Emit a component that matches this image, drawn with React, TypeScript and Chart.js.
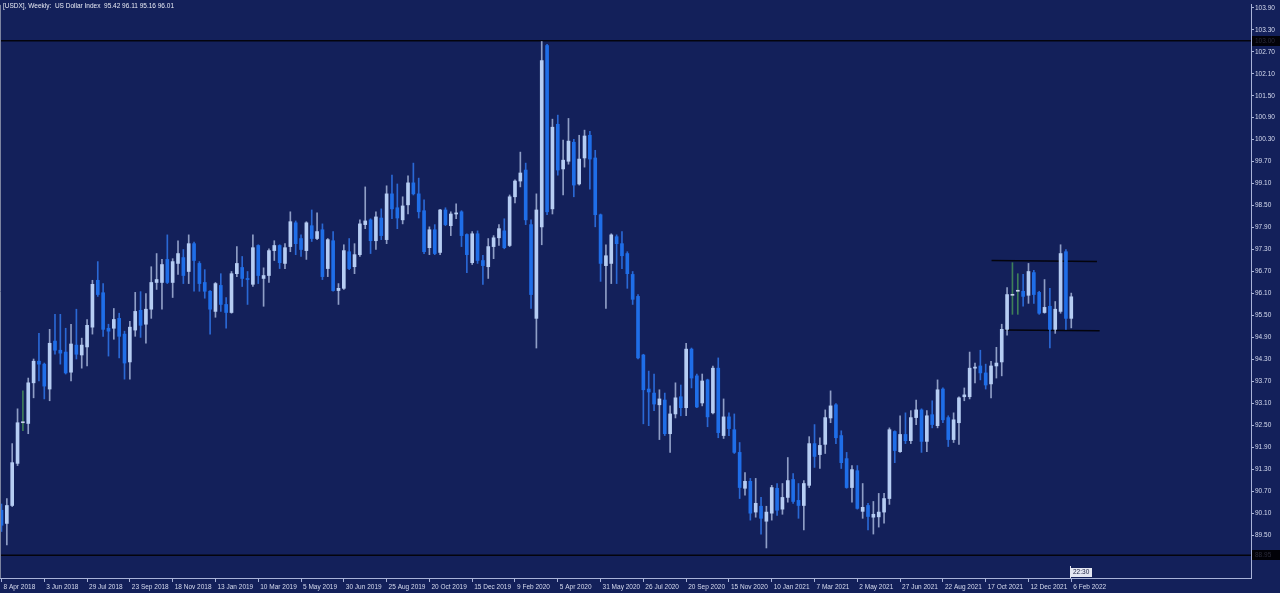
import React, { useEffect, useRef } from 'react';
import { Chart, registerables } from 'chart.js';

Chart.register(...registerables);

// Weekly OHLC, 8 Apr 2018 .. 6 Feb 2022 (201 bars)
const opens = [
  90.18, 89.82, 90.31, 91.46, 92.57, 92.55, 93.66, 94.25, 94.17, 93.49,
  94.80, 94.55, 94.50, 93.95, 94.69, 94.42, 94.64, 95.18, 96.46, 96.12,
  95.15, 95.15, 95.42, 94.99, 94.23, 95.10, 95.64, 95.26, 95.67, 96.40,
  96.40, 97.03, 96.40, 96.92, 97.08, 96.70, 97.46, 96.92, 96.40, 96.16,
  95.61, 96.32, 95.80, 95.58, 96.64, 96.81, 96.51, 96.35, 97.41, 96.51,
  96.59, 97.27, 97.41, 96.92, 97.38, 98.03, 97.60, 97.27, 97.95, 97.60,
  97.84, 96.78, 97.54, 96.18, 96.24, 97.24, 96.83, 97.16, 97.98, 98.11,
  97.54, 98.16, 97.57, 98.82, 98.44, 98.11, 98.52, 99.12, 98.82, 98.36,
  97.35, 97.84, 97.22, 98.38, 97.95, 98.27, 98.33, 97.71, 96.94, 97.73,
  97.00, 96.83, 97.38, 97.62, 97.81, 97.41, 98.74, 99.17, 99.47, 97.98,
  95.42, 97.92, 102.87, 98.41, 100.72, 99.50, 99.71, 100.23, 99.09, 99.80,
  100.42, 99.80, 98.25, 96.86, 96.92, 97.65, 97.46, 97.19, 96.62, 96.02,
  94.42, 93.49, 93.38, 93.06, 93.19, 92.27, 92.81, 93.28, 92.98, 94.58,
  93.85, 93.11, 93.74, 92.84, 94.06, 92.22, 92.73, 92.38, 91.76, 90.78,
  90.97, 90.13, 90.29, 89.88, 90.10, 90.78, 90.21, 90.53, 91.02, 90.45,
  90.31, 90.86, 92.00, 91.70, 91.98, 92.70, 93.06, 92.22, 91.59, 90.80,
  91.26, 90.15, 90.31, 89.99, 90.00, 90.13, 90.50, 92.33, 91.78, 92.25,
  92.08, 92.71, 92.92, 92.06, 92.79, 92.49, 93.49, 92.71, 92.11, 92.57,
  93.28, 93.28, 94.06, 94.12, 93.93, 93.63, 94.12, 94.23, 95.12, 96.05,
  96.16, 96.16, 96.05, 96.67, 96.13, 95.58, 95.75, 95.12, 95.61, 97.24,
  95.42,
];
const highs = [
  90.35, 90.50, 92.00, 92.95, 93.44, 93.79, 94.31, 95.01, 94.20, 95.12,
  95.53, 95.53, 95.15, 95.26, 95.67, 94.88, 95.39, 96.46, 96.97, 96.37,
  95.26, 95.69, 95.56, 95.07, 95.34, 96.13, 96.15, 96.10, 96.83, 97.19,
  97.03, 97.70, 97.05, 97.54, 97.30, 97.70, 97.50, 96.97, 96.75, 96.18,
  96.40, 96.64, 95.99, 96.70, 97.38, 97.11, 96.70, 97.70, 97.43, 96.80,
  97.32, 97.54, 97.43, 97.46, 98.33, 98.08, 97.70, 98.06, 98.38, 98.30,
  98.00, 97.60, 97.79, 96.37, 97.43, 97.60, 97.46, 98.11, 99.01, 98.14,
  98.33, 98.41, 99.04, 99.33, 99.09, 98.74, 99.31, 99.66, 99.25, 98.66,
  97.92, 97.98, 98.40, 98.44, 98.33, 98.55, 98.36, 97.73, 97.79, 97.81,
  97.14, 97.60, 97.68, 97.98, 98.14, 98.79, 99.20, 99.96, 99.66, 98.11,
  98.82, 102.98, 102.90, 100.86, 100.97, 100.29, 100.88, 100.31, 100.42, 100.56,
  100.53, 100.01, 98.27, 97.43, 97.73, 97.70, 97.79, 97.24, 96.70, 96.07,
  94.44, 93.98, 93.90, 93.47, 93.38, 93.03, 93.66, 93.60, 94.74, 94.61,
  93.90, 93.90, 93.76, 94.12, 94.34, 93.22, 92.84, 92.81, 92.03, 91.21,
  91.05, 91.05, 90.53, 90.29, 90.86, 90.91, 90.91, 91.62, 91.18, 90.91,
  90.99, 92.19, 92.52, 92.16, 92.92, 93.44, 93.09, 92.35, 91.76, 91.40,
  91.40, 90.91, 90.37, 90.42, 90.64, 90.64, 92.43, 92.35, 92.76, 92.84,
  92.90, 93.19, 92.95, 92.90, 93.17, 93.74, 93.52, 92.76, 92.84, 93.28,
  93.52, 94.50, 94.20, 94.55, 94.17, 94.25, 94.63, 95.26, 96.26, 96.94,
  96.64, 96.62, 96.92, 96.73, 96.16, 96.48, 96.24, 95.88, 97.43, 97.30,
  96.11,
];
const lows = [
  89.60, 89.23, 90.28, 91.40, 92.35, 92.27, 93.25, 93.71, 93.22, 93.17,
  94.44, 94.17, 93.90, 93.71, 94.31, 94.06, 94.12, 94.99, 96.02, 94.93,
  94.39, 94.85, 94.34, 93.76, 93.76, 94.93, 94.90, 94.74, 95.42, 96.21,
  95.67, 96.37, 95.99, 96.62, 96.37, 96.37, 96.16, 96.16, 95.97, 94.99,
  95.45, 95.61, 95.15, 95.56, 96.56, 96.29, 95.80, 96.29, 96.37, 95.75,
  96.40, 97.00, 96.78, 96.78, 97.24, 97.16, 97.11, 97.03, 97.52, 97.57,
  96.48, 96.56, 96.16, 95.80, 96.21, 96.75, 96.64, 97.11, 97.87, 97.19,
  97.30, 97.57, 97.46, 98.14, 97.87, 98.00, 98.27, 98.79, 98.16, 97.19,
  97.16, 97.16, 97.16, 97.95, 97.68, 98.14, 97.38, 96.67, 96.89, 96.92,
  96.35, 96.51, 97.05, 97.41, 97.32, 97.38, 98.57, 99.01, 97.98, 95.69,
  94.61, 97.43, 98.25, 98.27, 99.33, 98.79, 99.63, 98.74, 99.06, 99.55,
  98.95, 97.92, 96.43, 95.69, 96.37, 96.37, 96.78, 96.24, 95.80, 94.31,
  92.54, 92.49, 92.90, 92.11, 92.22, 91.76, 92.70, 92.76, 92.76, 93.52,
  92.98, 93.03, 92.46, 92.81, 92.16, 92.14, 92.22, 91.73, 90.50, 90.59,
  89.91, 89.99, 89.53, 89.15, 89.91, 90.04, 90.07, 90.40, 90.37, 89.96,
  89.64, 90.80, 91.35, 91.32, 91.73, 92.57, 92.00, 91.32, 90.78, 90.40,
  90.21, 89.96, 89.64, 89.53, 89.72, 89.83, 90.34, 91.48, 91.76, 92.00,
  92.00, 92.52, 91.76, 91.78, 92.43, 92.43, 92.57, 91.92, 92.03, 91.98,
  93.17, 93.22, 93.66, 93.74, 93.49, 93.25, 93.79, 93.85, 94.96, 95.53,
  95.53, 95.75, 95.83, 95.83, 95.53, 95.56, 94.61, 95.01, 95.56, 95.12,
  95.16,
];
const closes = [
  89.77, 90.31, 91.48, 92.57, 92.57, 93.66, 94.25, 94.17, 93.57, 94.74,
  94.55, 94.47, 93.93, 94.72, 94.44, 94.69, 95.23, 96.35, 96.07, 95.12,
  95.07, 95.39, 94.93, 94.20, 95.18, 95.61, 95.23, 95.67, 96.40, 96.48,
  96.89, 96.40, 96.97, 97.19, 96.59, 97.46, 97.00, 96.37, 96.16, 95.67,
  96.37, 95.80, 95.58, 96.64, 96.92, 96.51, 96.48, 97.35, 96.59, 96.59,
  97.27, 97.41, 96.94, 97.35, 98.06, 97.46, 97.30, 98.03, 97.60, 97.79,
  96.56, 97.57, 96.18, 96.24, 97.27, 96.78, 97.16, 98.00, 98.08, 97.54,
  98.19, 97.68, 98.82, 98.41, 98.16, 98.49, 99.12, 98.82, 98.33, 97.24,
  97.84, 97.19, 98.38, 97.98, 98.27, 98.30, 97.68, 97.16, 97.73, 97.00,
  96.86, 97.38, 97.62, 97.87, 97.35, 98.74, 99.17, 99.39, 98.11, 96.07,
  98.38, 102.46, 98.33, 100.64, 99.47, 99.74, 100.26, 99.06, 99.77, 100.40,
  99.77, 98.25, 96.92, 97.13, 97.70, 97.46, 97.13, 96.64, 95.94, 94.34,
  93.47, 93.41, 93.08, 93.22, 92.27, 92.81, 93.25, 92.98, 94.58, 93.79,
  93.00, 93.71, 92.73, 94.06, 92.30, 92.73, 92.41, 91.76, 90.80, 90.97,
  90.10, 90.37, 89.96, 90.13, 90.80, 90.18, 90.53, 90.99, 90.42, 90.31,
  90.91, 92.00, 91.65, 91.95, 92.71, 93.03, 92.16, 91.48, 90.80, 91.29,
  90.23, 90.26, 90.01, 90.07, 90.13, 90.50, 92.38, 91.81, 92.25, 92.08,
  92.71, 92.92, 92.06, 92.76, 92.52, 93.47, 92.65, 92.11, 92.65, 93.25,
  93.33, 94.06, 94.09, 93.93, 93.60, 94.12, 94.20, 95.12, 96.07, 96.05,
  96.16, 96.02, 96.70, 96.07, 95.56, 95.72, 95.12, 95.67, 97.19, 95.42,
  96.01,
];

// every 8th weekly bar carries a date label
const dateLabels = [
  '8 Apr 2018', '3 Jun 2018', '29 Jul 2018', '23 Sep 2018', '18 Nov 2018',
  '13 Jan 2019', '10 Mar 2019', '5 May 2019', '30 Jun 2019', '25 Aug 2019',
  '20 Oct 2019', '15 Dec 2019', '9 Feb 2020', '5 Apr 2020', '31 May 2020',
  '26 Jul 2020', '20 Sep 2020', '15 Nov 2020', '10 Jan 2021', '7 Mar 2021',
  '2 May 2021', '27 Jun 2021', '22 Aug 2021', '17 Oct 2021', '12 Dec 2021',
  '6 Feb 2022',
];
const labelStep = 8;

const priceTicks = [
  89.5, 90.1, 90.7, 91.3, 91.9, 92.5, 93.1, 93.7, 94.3, 94.9, 95.5, 96.1,
  96.7, 97.3, 97.9, 98.5, 99.1, 99.7, 100.3, 100.9, 101.5, 102.1, 102.7,
  103.3, 103.9,
];

// horizontal levels across the whole chart
const levelLines = [103.0, 88.95];
// range box lines (bar index, price)
const boxTopX = [185.1, 204.8];
const boxTopY = [97.0, 96.97];
const boxBottomX = [187.6, 205.3];
const boxBottomY = [95.1, 95.08];

const titleText = '[USDX], Weekly:  US Dollar Index  95.42 96.11 95.16 96.01';
const timeLabel = '22:30';

const X_MIN = -0.28;
const X_MAX = 233.6;
const Y_MIN = 88.33;
const Y_MAX = 103.98;

const BG = '#13205a';
const BULL = '#b6cdf3';
const BEAR = '#1f6ee8';
const BULL_WICK = '#8f9ec6';
const BEAR_WICK = '#2a68d4';
const DOJI = '#3f7f58';
const AXIS = '#a9b3d8';
const TEXT = '#d6dbef';
const FONT = '"Liberation Sans", Arial, sans-serif';

export default function App() {
  const ref = useRef<HTMLCanvasElement | null>(null);

  useEffect(() => {
    const canvas = ref.current;
    if (!canvas) return;
    const idx = opens.map((_, i) => i);
    const kind = (i: number) =>
      closes[i] > opens[i] ? 'up' : closes[i] < opens[i] ? 'down' : 'doji';

    const overlay = {
      id: 'overlay',
      beforeDraw(chart: any) {
        const { ctx, width, height } = chart;
        ctx.save();
        ctx.fillStyle = BG;
        ctx.fillRect(0, 0, width, height);
        ctx.restore();
      },
      afterDraw(chart: any) {
        const { ctx, chartArea, scales } = chart;
        const ys = scales.y;
        const xs = scales.x;
        ctx.save();
        ctx.strokeStyle = '#7c84a0';
        ctx.lineWidth = 1;
        ctx.beginPath();
        ctx.moveTo(0.5, chartArea.top);
        ctx.lineTo(0.5, chartArea.bottom);
        ctx.stroke();

        ctx.font = `6.5px ${FONT}`;
        ctx.textBaseline = 'middle';
        ctx.textAlign = 'left';
        ctx.fillStyle = '#e8eaf4';
        ctx.fillText(titleText, 3, 6);

        levelLines.forEach((v) => {
          const py = Math.round(ys.getPixelForValue(v));
          ctx.fillStyle = '#020208';
          ctx.fillRect(chartArea.right + 1, py - 5, 28, 10);
          ctx.fillStyle = '#2c2c3c';
          ctx.fillText(v.toFixed(2), chartArea.right + 4, py);
        });

        const tx = Math.round(xs.getPixelForValue(opens.length - 1));
        ctx.fillStyle = '#e4e7f2';
        ctx.fillRect(tx - 1, chartArea.bottom - 12, 1, 12);
        ctx.fillRect(tx, chartArea.bottom - 10, 21, 9);
        ctx.fillStyle = '#1a1f40';
        ctx.fillText(timeLabel, tx + 2, chartArea.bottom - 5.5);
        ctx.restore();
      },
    };

    const lineDs = (xsArr: number[], ysArr: number[]) => ({
      type: 'line' as const,
      data: xsArr.map((x, k) => ({ x, y: ysArr[k] })),
      borderColor: '#04040c',
      borderWidth: 1.5,
      pointRadius: 0,
      fill: false,
      order: 5,
    });

    const chart = new Chart(canvas, {
      type: 'bar',
      data: {
        datasets: [
          ...levelLines.map((v) => lineDs([X_MIN, X_MAX], [v, v])),
          lineDs(boxTopX, boxTopY),
          lineDs(boxBottomX, boxBottomY),
          {
            type: 'bar' as const,
            data: idx.map((i) => ({ x: i, y: [lows[i], highs[i]] })) as any,
            backgroundColor: idx.map((i) =>
              kind(i) === 'up' ? BULL_WICK : kind(i) === 'down' ? BEAR_WICK : DOJI
            ),
            barThickness: 1,
            grouped: false,
            borderWidth: 0,
            order: 3,
          },
          {
            type: 'bar' as const,
            data: idx.map((i) => ({ x: i, y: [opens[i], closes[i]] })) as any,
            backgroundColor: idx.map((i) =>
              kind(i) === 'up' ? BULL : kind(i) === 'down' ? BEAR : '#c8d2ea'
            ),
            barThickness: 3,
            minBarLength: 1,
            grouped: false,
            borderWidth: 0,
            order: 1,
          },
        ] as any,
      },
      options: {
        animation: false,
        responsive: false,
        maintainAspectRatio: false,
        events: [],
        layout: { padding: { top: 2, left: 0, right: 0, bottom: 0 } },
        plugins: {
          legend: { display: false },
          tooltip: { enabled: false },
          title: { display: false },
        },
        scales: {
          x: {
            type: 'linear',
            position: 'bottom',
            min: X_MIN,
            max: X_MAX,
            offset: false,
            afterBuildTicks: (s: any) => {
              s.ticks = dateLabels.map((_, k) => ({ value: k * labelStep }));
            },
            afterFit: (s: any) => {
              s.height = 15;
            },
            ticks: {
              autoSkip: false,
              maxRotation: 0,
              minRotation: 0,
              align: 'start',
              labelOffset: 2,
              padding: 1,
              color: TEXT,
              font: { family: FONT, size: 6.5 },
              callback: (v: any) => dateLabels[Math.round(Number(v) / labelStep)] ?? null,
            },
            grid: {
              display: true,
              offset: false,
              drawOnChartArea: false,
              drawTicks: true,
              tickLength: 4,
              color: AXIS,
            },
            border: { display: true, color: AXIS, width: 1 },
          },
          y: {
            type: 'linear',
            position: 'right',
            min: Y_MIN,
            max: Y_MAX,
            afterBuildTicks: (s: any) => {
              s.ticks = priceTicks.map((v) => ({ value: v }));
            },
            afterFit: (s: any) => {
              s.width = 29;
            },
            ticks: {
              autoSkip: false,
              padding: 1,
              color: TEXT,
              font: { family: FONT, size: 6.5 },
              callback: (v: any) => Number(v).toFixed(2),
            },
            grid: {
              display: true,
              drawOnChartArea: false,
              drawTicks: true,
              tickLength: 3,
              color: AXIS,
            },
            border: { display: true, color: AXIS, width: 1 },
          },
        },
      } as any,
      plugins: [overlay],
    });

    return () => chart.destroy();
  }, []);

  return (
    <div
      style={{
        position: 'fixed',
        left: 0,
        top: 0,
        width: 1280,
        height: 593,
        background: BG,
        overflow: 'hidden',
      }}
    >
      <canvas ref={ref} width={1280} height={593} style={{ display: 'block', width: 1280, height: 593 }} />
    </div>
  );
}
